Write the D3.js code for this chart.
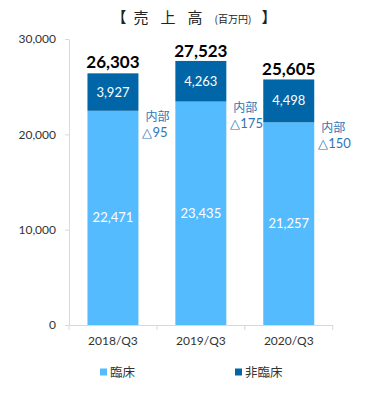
<!DOCTYPE html>
<html><head><meta charset="utf-8">
<script src="https://cdn.jsdelivr.net/npm/d3@7"></script>
<style>body{margin:0;background:#fff}svg{display:block}</style>
</head><body>
<svg id="c" width="380" height="410"></svg>
<script>
const categories = ["2018/Q3","2019/Q3","2020/Q3"];
const clinical = [22471, 23435, 21257];
const nonClinical = [3927, 4263, 4498];
const totals = [26303, 27523, 25605];
const internal = ["△95","△175","△150"];
const yTicks = [0, 10000, 20000, 30000];
const seriesNames = ["臨床","非臨床"];
const colors = ["#55bbff","#0066a8"];

const svg = d3.select("#c");
const x = d3.scaleBand().domain(categories).range([69, 332.7]).paddingInner(0.42).paddingOuter(0.21);
const y = d3.scaleLinear().domain([0, 30000]).range([325, 39]);
const numFont = "Lato, 'Noto Sans', sans-serif";
const jpFont = "'Noto Sans CJK JP', sans-serif";
const fmt = d3.format(",");

// title
const titleParts = [
  {t:"【", x:119, s:15}, {t:"売", x:141, s:15}, {t:"上", x:168, s:15}, {t:"高", x:195, s:15},
  {t:"(百万円)", x:233, s:10}, {t:"】", x:269, s:15}
];
svg.append("g").selectAll("text").data(titleParts).join("text")
  .attr("x", d=>d.x).attr("y", 23).attr("text-anchor","middle")
  .attr("font-family", jpFont).attr("font-size", d=>d.s).attr("fill","#222").text(d=>d.t);

// y axis
const ya = svg.append("g").attr("transform","translate(69,0)")
  .call(d3.axisLeft(y).tickValues(yTicks).tickFormat(fmt).tickSize(4).tickSizeOuter(0));
ya.select(".domain").attr("stroke","#d9d9d9");
ya.selectAll(".tick line").attr("stroke","#d9d9d9");
ya.selectAll(".tick text").attr("font-family", numFont).attr("font-size", 12).attr("fill","#333").attr("dx", -6);

// x axis
const xa = svg.append("g").attr("transform","translate(0,325)")
  .call(d3.axisBottom(x).tickSize(0).tickSizeOuter(0));
xa.select(".domain").attr("stroke","#d9d9d9");
xa.selectAll(".tick text").attr("font-family", numFont).attr("font-size", 12).attr("fill","#333").attr("dy", 17);
const bounds = [69].concat(categories.map(c => x(c) + x.bandwidth() + x.step()*x.paddingInner()/2));
bounds[3] = 332.7;
svg.append("g").selectAll("line").data(bounds).join("line")
  .attr("x1", d=>d).attr("x2", d=>d).attr("y1", 325).attr("y2", 330).attr("stroke","#d9d9d9");

// bars
const g = svg.append("g");
categories.forEach((c, i) => {
  g.append("rect").attr("x", x(c)).attr("width", x.bandwidth())
    .attr("y", y(clinical[i])).attr("height", y(0) - y(clinical[i])).attr("fill", colors[0]);
  g.append("rect").attr("x", x(c)).attr("width", x.bandwidth())
    .attr("y", y(clinical[i] + nonClinical[i])).attr("height", y(clinical[i]) - y(clinical[i] + nonClinical[i])).attr("fill", colors[1]);
  const cx = x(c) + x.bandwidth()/2;
  g.append("text").attr("x", cx).attr("y", y(clinical[i]/2) + 4.5).attr("text-anchor","middle")
    .attr("font-family", numFont).attr("font-size", 13).attr("fill","#fff").text(fmt(clinical[i]));
  g.append("text").attr("x", cx).attr("y", y(clinical[i] + nonClinical[i]/2) + 4.5).attr("text-anchor","middle")
    .attr("font-family", numFont).attr("font-size", 13).attr("fill","#fff").text(fmt(nonClinical[i]));
  g.append("text").attr("x", cx).attr("y", y(totals[i]) - 6).attr("text-anchor","middle")
    .attr("font-family", numFont).attr("font-size", 17).attr("font-weight","bold").attr("fill","#000").text(fmt(totals[i]));
  const ax = x(c) + x.bandwidth() + 4;
  const ay = y(clinical[i]) + 10;
  g.append("text").attr("x", ax + 3).attr("y", ay).attr("font-family", jpFont).attr("font-size", 12)
    .attr("fill","#2e75b6").text("内部");
  g.append("text").attr("x", ax).attr("y", ay + 16).attr("font-family", numFont).attr("font-size", 13)
    .attr("fill","#2e75b6").text(internal[i]);
});

// legend
const lx = [100, 235];
seriesNames.forEach((n, i) => {
  svg.append("rect").attr("x", lx[i]).attr("y", 368.5).attr("width", 7).attr("height", 7).attr("fill", colors[i]);
  svg.append("text").attr("x", lx[i] + 10).attr("y", 377).attr("font-family", jpFont).attr("font-size", 12.5)
    .attr("fill","#333").text(n);
});
</script>
</body></html>
